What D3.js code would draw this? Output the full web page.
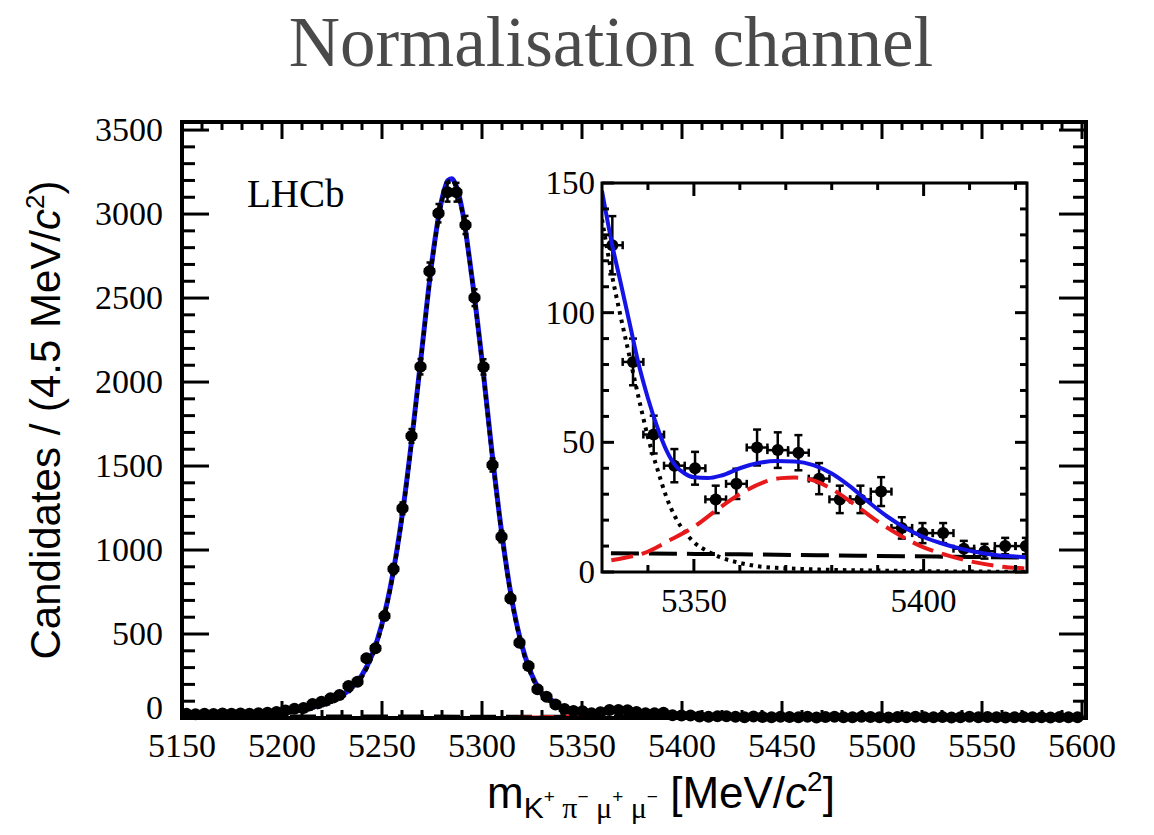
<!DOCTYPE html>
<html>
<head>
<meta charset="utf-8">
<script src="https://cdn.jsdelivr.net/npm/d3@7"></script>
<style>
  body { margin: 0; background: #fff; }
  svg { display: block; }
</style>
</head>
<body>
<svg id="chart" width="1154" height="835"></svg>
<script>
// histogram binning: 100 bins of 4.5 MeV from 5150
const binStart = 5150;
const binWidth = 4.5;

// candidates per bin
const counts = [
    25, 22, 26, 24, 27, 25, 27, 26, 29, 31,
    36, 45, 55, 60, 83, 97, 117, 137, 190, 216,
    355, 415, 607, 887, 1248, 1679, 2091, 2660, 3005, 3130,
    3130, 2935, 2502, 2090, 1506, 1079, 712, 448, 310, 171,
    126, 81, 53, 41, 40, 28, 34, 48, 47, 46,
    36, 28, 28, 31, 17, 15, 15, 9, 8, 10,
    10, 7, 5, 9, 6, 4, 8, 6, 5, 7,
    3, 6, 8, 5, 4, 7, 6, 5, 3, 6,
    5, 7, 4, 5, 6, 3, 5, 7, 4, 6,
    5, 3, 4, 6, 5, 4, 3, 6, 4, 5
];

// fit curves, main panel
const fitMass = [5150, 5160, 5170, 5180, 5190, 5195, 5200, 5205, 5210, 5215,
    5220, 5225, 5230, 5235, 5240, 5245, 5250, 5255, 5260, 5265,
    5270, 5275, 5280, 5283, 5285, 5287, 5290, 5295, 5300, 5305,
    5310, 5315, 5320, 5323, 5325, 5327, 5330, 5335, 5340, 5345,
    5350, 5355, 5360, 5365, 5370, 5375, 5380, 5385, 5390, 5395,
    5400, 5410, 5420, 5450, 5500, 5550, 5600];
const fitTotal = [25, 25, 26, 27, 30, 33, 37, 43, 52, 64,
    80, 102, 135, 182, 255, 375, 560, 830, 1200, 1670,
    2200, 2720, 3090, 3200, 3210, 3170, 3030, 2620, 2130, 1580,
    1090, 700, 430, 315, 255, 205, 147, 104, 66, 44,
    36.5, 36.8, 40.5, 42.2, 42.8, 41.8, 38, 32, 24, 18,
    13.5, 8, 6, 5, 4.6, 4.2, 3.8];
const fitSignal = [15, 15.5, 16.5, 18, 21, 24, 28, 34, 43, 55,
    71, 93, 126, 173, 246, 366, 551, 821, 1191, 1661,
    2191, 2711, 3081, 3191, 3201, 3161, 3021, 2611, 2121, 1571,
    1081, 691, 421, 305, 245, 194, 136, 91, 52, 24,
    11.5, 6, 3.5, 2, 1.4, 1, 0.8, 0.6, 0.5, 0.3,
    0.2, 0.1, 0.1, 0, 0, 0, 0];

// B0s component (red dashed)
const bsMass = [5150, 5280, 5300, 5315, 5325, 5330, 5335, 5339, 5345, 5350,
    5355, 5360, 5365, 5369, 5372, 5376, 5380, 5385, 5390, 5395,
    5400, 5405, 5411, 5416, 5422.5, 5435, 5450, 5480, 5600];
const bsValues = [0, 0, 0.2, 1, 2.6, 4.0, 5.5, 7.2, 12.5, 17.4,
    24, 30, 34.5, 36.2, 36.4, 35.3, 32, 26, 19.5, 14,
    9.5, 6.5, 3.8, 2.3, 1.3, 0.5, 0.15, 0, 0];

// combinatorial background (black long dash)
const combMass = [5150, 5250, 5330, 5360, 5390, 5422.5, 5500, 5600];
const combValues = [10, 8.6, 7.3, 6.8, 6.2, 5.6, 4.8, 3.9];

// finer reading of the fit for the zoomed inset
const insetMass = [5330, 5332, 5334, 5336, 5338, 5340, 5342, 5344, 5346, 5348,
    5350, 5353, 5356, 5360, 5364, 5368, 5372, 5376, 5380, 5384,
    5388, 5392, 5396, 5400, 5404, 5408, 5412, 5416, 5420, 5422.5];
const insetTotal = [147, 128, 112, 96, 80, 67, 56, 47, 41, 38,
    36.5, 36.2, 37.2, 40, 42, 42.8, 42.6, 41.2, 38, 33,
    27, 21.5, 17, 13.5, 11, 9, 7.5, 6.5, 6, 5.6];
const insetSignal = [136, 116, 99, 83, 67, 52, 40, 29, 21, 15.5,
    11.5, 8, 5.5, 3.5, 2.2, 1.6, 1.3, 1.0, 0.8, 0.7,
    0.6, 0.5, 0.4, 0.3, 0.3, 0.2, 0.2, 0.1, 0.1, 0.1];

// tick labels
const xTickLabels = [5150, 5200, 5250, 5300, 5350, 5400, 5450, 5500, 5550, 5600];
const yTickLabels = [0, 500, 1000, 1500, 2000, 2500, 3000, 3500];
const insetXTickLabels = [5350, 5400];
const insetYTickLabels = [0, 50, 100, 150];

const serif = "'Liberation Serif', 'Times New Roman', serif";
const sans = "'Liberation Sans', Arial, Helvetica, sans-serif";

document.addEventListener("DOMContentLoaded", () => {
    const svg = d3.select("#chart");

    const bins = counts.map((n, i) => ({ m: binStart + binWidth * (i + 0.5), n: n, e: Math.sqrt(n) }));

    // main panel scales
    const x = d3.scaleLinear().domain([5150, 5602]).range([182, 1086]);
    const y = d3.scaleLinear().domain([0, 3548]).range([718, 122]);

    // inset scales
    const xi = d3.scaleLinear().domain([5330, 5422.5]).range([602, 1027]);
    const yi = d3.scaleLinear().domain([0, 150]).range([572, 183]);

    const defs = svg.append("defs");
    defs.append("clipPath").attr("id", "clipMain").append("rect")
        .attr("x", 182).attr("y", 122).attr("width", 904).attr("height", 596);
    defs.append("clipPath").attr("id", "clipInset").append("rect")
        .attr("x", 602).attr("y", 183).attr("width", 425).attr("height", 389);

    // title
    svg.append("text")
        .attr("x", 611).attr("y", 66)
        .attr("text-anchor", "middle")
        .attr("font-family", serif)
        .attr("font-size", "71px")
        .attr("fill", "#4a4a4a")
        .text("Normalisation channel");

    // draws inward ticks on one side of a frame
    function ticks(g, scale, values, side, pos, len, width) {
        values.forEach(v => {
            const p = scale(v);
            const l = g.append("line").attr("stroke", "black").attr("stroke-width", width);
            if (side === "bottom") l.attr("x1", p).attr("x2", p).attr("y1", pos).attr("y2", pos - len);
            if (side === "top") l.attr("x1", p).attr("x2", p).attr("y1", pos).attr("y2", pos + len);
            if (side === "left") l.attr("x1", pos).attr("x2", pos + len).attr("y1", p).attr("y2", p);
            if (side === "right") l.attr("x1", pos).attr("x2", pos - len).attr("y1", p).attr("y2", p);
        });
    }

    function drawData(g, xs, ys, r, cap) {
        const pts = g.append("g");
        bins.forEach(b => {
            const cx = xs(b.m), cy = ys(b.n);
            const y0 = ys(b.n - b.e), y1 = ys(b.n + b.e);
            const xa = xs(b.m - binWidth / 2), xb = xs(b.m + binWidth / 2);
            pts.append("line").attr("x1", cx).attr("x2", cx).attr("y1", y0).attr("y2", y1)
                .attr("stroke", "black").attr("stroke-width", 2.5);
            pts.append("line").attr("x1", xa).attr("x2", xb).attr("y1", cy).attr("y2", cy)
                .attr("stroke", "black").attr("stroke-width", 2.5);
            // end caps
            [y0, y1].forEach(yy => pts.append("line")
                .attr("x1", cx - cap).attr("x2", cx + cap).attr("y1", yy).attr("y2", yy)
                .attr("stroke", "black").attr("stroke-width", 2.5));
            [xa, xb].forEach(xx => pts.append("line")
                .attr("x1", xx).attr("x2", xx).attr("y1", cy - cap).attr("y2", cy + cap)
                .attr("stroke", "black").attr("stroke-width", 2.5));
            pts.append("circle").attr("cx", cx).attr("cy", cy).attr("r", r).attr("fill", "black");
        });
    }

    function drawCurve(g, xs, ys, mass, vals, color, width, dash) {
        const line = d3.line()
            .x(d => xs(d[0]))
            .y(d => ys(d[1]))
            .curve(d3.curveMonotoneX);
        const p = g.append("path")
            .datum(d3.zip(mass, vals))
            .attr("d", line)
            .attr("fill", "none")
            .attr("stroke", color)
            .attr("stroke-width", width);
        if (dash) p.attr("stroke-dasharray", dash);
    }

    // ---- main panel ----
    const main = svg.append("g");
    const mainPlot = main.append("g").attr("clip-path", "url(#clipMain)");

    drawData(main, x, y, 6, 3);
    drawCurve(mainPlot, x, y, combMass, combValues, "black", 4, "26 10");
    drawCurve(mainPlot, x, y, bsMass, bsValues, "#e8191b", 4, "36 12");
    drawCurve(mainPlot, x, y, fitMass, fitTotal, "#1414e6", 5, null);
    drawCurve(mainPlot, x, y, fitMass, fitSignal, "black", 4, "5 4");

    // frame and ticks
    const xMajor = d3.range(5150, 5601, 50);
    const xMinor = d3.range(5150, 5601, 10).filter(v => (v - 5150) % 50 !== 0);
    const yMajor = d3.range(0, 3501, 500);
    const yMinor = d3.range(0, 3501, 100).filter(v => v % 500 !== 0);
    ticks(main, x, xMajor, "bottom", 718, 17, 3);
    ticks(main, x, xMinor, "bottom", 718, 8, 3);
    ticks(main, x, xMajor, "top", 122, 17, 3);
    ticks(main, x, xMinor, "top", 122, 8, 3);
    ticks(main, y, yMajor, "left", 182, 27, 3);
    ticks(main, y, yMinor, "left", 182, 13, 3);
    ticks(main, y, yMajor, "right", 1086, 27, 3);
    ticks(main, y, yMinor, "right", 1086, 13, 3);
    main.append("rect")
        .attr("x", 182).attr("y", 122).attr("width", 904).attr("height", 596)
        .attr("fill", "none").attr("stroke", "black").attr("stroke-width", 4);

    // tick labels
    main.selectAll(".xl").data(xTickLabels).enter().append("text")
        .attr("x", d => x(d)).attr("y", 757)
        .attr("text-anchor", "middle")
        .attr("font-family", serif).attr("font-size", "34px")
        .text(d => d);
    main.selectAll(".yl").data(yTickLabels).enter().append("text")
        .attr("x", 163).attr("y", d => d === 0 ? y(d) + 1 : y(d) + 11)
        .attr("text-anchor", "end")
        .attr("font-family", serif).attr("font-size", "34px")
        .text(d => d);

    // axis titles
    const yTitle = svg.append("text")
        .attr("transform", "translate(60,420) rotate(-90)")
        .attr("text-anchor", "middle")
        .attr("font-family", sans).attr("font-size", "42px");
    yTitle.append("tspan").text("Candidates / (4.5 MeV/");
    yTitle.append("tspan").attr("font-style", "italic").text("c");
    yTitle.append("tspan").attr("font-size", "26px").attr("dy", -16).text("2");
    yTitle.append("tspan").attr("dy", 16).text(")");

    const xTitle = svg.append("text")
        .attr("x", 487).attr("y", 808)
        .attr("font-family", sans).attr("font-size", "44px");
    xTitle.append("tspan").text("m");
    const sub = [["K", "+"], ["\u03c0", "\u2212"], ["\u03bc", "+"], ["\u03bc", "\u2212"]];
    sub.forEach((s, i) => {
        xTitle.append("tspan").attr("font-size", "30px").attr("dy", i === 0 ? 10 : 15)
            .attr("font-family", i === 0 ? sans : serif)
            .text((i === 0 ? "" : "  ") + s[0]);
        xTitle.append("tspan").attr("font-size", "19px").attr("dy", -15).text(s[1]);
    });
    xTitle.append("tspan").attr("font-size", "44px").attr("dy", 5).text(" [MeV/");
    xTitle.append("tspan").attr("font-size", "44px").attr("font-style", "italic").text("c");
    xTitle.append("tspan").attr("font-size", "28px").attr("dy", -17).text("2");
    xTitle.append("tspan").attr("font-size", "44px").attr("dy", 17).text("]");

    // experiment label
    svg.append("text")
        .attr("x", 247).attr("y", 207)
        .attr("font-family", serif).attr("font-size", "39px")
        .text("LHCb");

    // ---- inset ----
    const inset = svg.append("g");
    inset.append("rect")
        .attr("x", 602).attr("y", 183).attr("width", 425).attr("height", 389)
        .attr("fill", "white");
    const insetPlot = inset.append("g").attr("clip-path", "url(#clipInset)");

    drawData(insetPlot, xi, yi, 6, 4);
    drawCurve(insetPlot, xi, yi, combMass, combValues, "black", 4, "28 10");
    drawCurve(insetPlot, xi, yi, insetMass, insetSignal, "black", 4, "3.5 5");
    drawCurve(insetPlot, xi, yi, bsMass, bsValues, "#e8191b", 4, "22 9");
    drawCurve(insetPlot, xi, yi, insetMass, insetTotal, "#1414e6", 4, null);

    const ixMajor = [5350, 5400];
    const ixMinor = d3.range(5340, 5421, 10).filter(v => v % 50 !== 0);
    const iyMajor = d3.range(0, 151, 50);
    const iyMinor = d3.range(0, 151, 10).filter(v => v % 50 !== 0);
    ticks(inset, xi, ixMajor, "bottom", 572, 13, 3);
    ticks(inset, xi, ixMinor, "bottom", 572, 7, 3);
    ticks(inset, xi, ixMajor, "top", 183, 13, 3);
    ticks(inset, xi, ixMinor, "top", 183, 7, 3);
    ticks(inset, yi, iyMajor, "left", 602, 12, 3);
    ticks(inset, yi, iyMinor, "left", 602, 7, 3);
    ticks(inset, yi, iyMajor, "right", 1027, 12, 3);
    ticks(inset, yi, iyMinor, "right", 1027, 7, 3);
    inset.append("rect")
        .attr("x", 602).attr("y", 183).attr("width", 425).attr("height", 389)
        .attr("fill", "none").attr("stroke", "black").attr("stroke-width", 3);

    inset.selectAll(".ixl").data(insetXTickLabels).enter().append("text")
        .attr("x", d => xi(d)).attr("y", 612)
        .attr("text-anchor", "middle")
        .attr("font-family", serif).attr("font-size", "33px")
        .text(d => d);
    inset.selectAll(".iyl").data(insetYTickLabels).enter().append("text")
        .attr("x", 595).attr("y", d => yi(d) + 11)
        .attr("text-anchor", "end")
        .attr("font-family", serif).attr("font-size", "33px")
        .text(d => d);
});
</script>
</body>
</html>
